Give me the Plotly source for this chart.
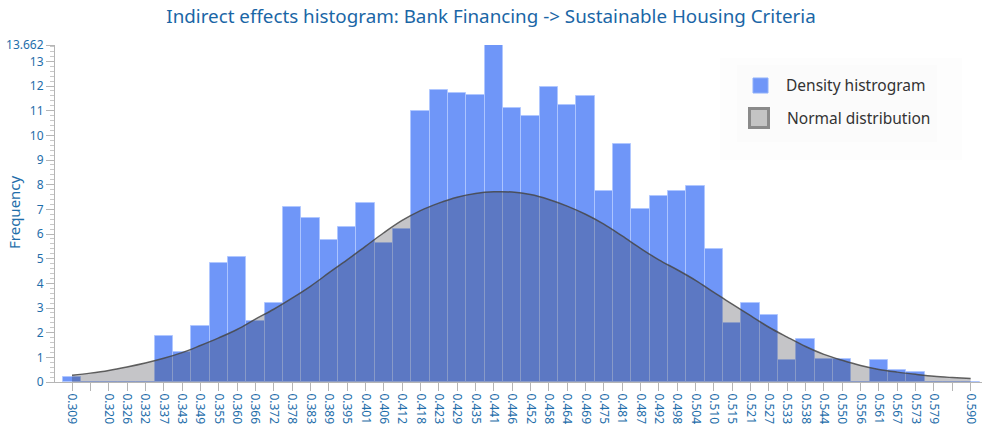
#!/usr/bin/env python3
"""Indirect effects histogram with normal distribution overlay."""
import plotly.graph_objects as go

# bin centres as printed on the x axis (two of them carry no printed label)
bin_labels = [
    "0.309", "0.315", "0.320", "0.326", "0.332", "0.337", "0.343", "0.349", "0.355", "0.360",
    "0.366", "0.372", "0.378", "0.383", "0.389", "0.395", "0.401", "0.406", "0.412", "0.418",
    "0.423", "0.429", "0.435", "0.441", "0.446", "0.452", "0.458", "0.464", "0.469", "0.475",
    "0.481", "0.487", "0.492", "0.498", "0.504", "0.510", "0.515", "0.521", "0.527", "0.533",
    "0.538", "0.544", "0.550", "0.556", "0.561", "0.567", "0.573", "0.579", "0.584", "0.590",
]
hidden_labels = ["0.315", "0.584"]

# histogram heights (frequency)
freq = [
    0.20, 0, 0, 0, 0, 1.86, 1.23, 2.27, 4.82, 5.08,
    2.49, 3.22, 7.09, 6.63, 5.74, 6.30, 7.26, 5.63, 6.19, 10.97,
    11.83, 11.73, 11.63, 13.66, 11.09, 10.78, 11.96, 11.25, 11.60, 7.73,
    9.63, 7.00, 7.54, 7.73, 7.93, 5.38, 2.40, 3.21, 2.70, 0.90,
    1.74, 0.92, 0.95, 0, 0.89, 0.50, 0.40, 0, 0, 0,
]

# fitted normal curve, read at every bin centre
normal = [
    0.27, 0.36, 0.47, 0.61, 0.77, 0.96, 1.19, 1.48, 1.79, 2.13,
    2.55, 2.95, 3.40, 3.88, 4.42, 4.95, 5.50, 6.05, 6.55, 6.95,
    7.25, 7.49, 7.64, 7.71, 7.70, 7.60, 7.40, 7.13, 6.80, 6.40,
    5.92, 5.42, 4.95, 4.55, 4.12, 3.63, 3.16, 2.69, 2.22, 1.82,
    1.44, 1.12, 0.88, 0.67, 0.51, 0.40, 0.31, 0.23, 0.18, 0.14,
]

y_max = 13.662
y_ticks = list(range(0, 14)) + [y_max]

BLUE_TXT = "#1f6eaa"
FONT = "Noto Sans"

# plot area in pixels (for placing the hand-made legend)
L, R, T, B = 55, 0, 45, 48
W, H = 982, 430
pw, ph = W - L - R, H - T - B


def px(x):
    return (x - L) / pw


def py(y):
    return (H - B - y) / ph


fig = go.Figure()
fig.add_trace(go.Bar(
    x=bin_labels, y=freq,
    marker=dict(color="#6f96f8", line=dict(color="rgba(175,198,255,0.9)", width=1)),
    showlegend=False,
))
fig.add_trace(go.Scatter(
    x=bin_labels, y=normal,
    mode="lines", line=dict(color="rgba(70,70,70,0.85)", width=1.5, shape="spline"),
    fill="tozeroy", fillcolor="rgba(40,40,50,0.27)",
    showlegend=False,
))

tick_text = ["" if s in hidden_labels else s for s in bin_labels]

fig.update_layout(
    width=W, height=H,
    margin=dict(l=L, r=R, t=T, b=B),
    paper_bgcolor="white", plot_bgcolor="white",
    bargap=0,
    font=dict(family=FONT, color=BLUE_TXT),
    title=dict(
        text="Indirect effects histogram: Bank Financing -> Sustainable Housing Criteria",
        x=0.5, xref="container", xanchor="center",
        y=1 - 16 / H, yref="container", yanchor="middle",
        font=dict(family=FONT, size=18.8, color="#1a66a6"),
    ),
    xaxis=dict(
        type="category", range=[-0.927, 49.62],
        tickmode="array", tickvals=bin_labels, ticktext=tick_text,
        tickangle=90, tickfont=dict(size=12, color=BLUE_TXT),
        ticks="outside", ticklen=8, tickcolor="#b5b5b5",
        showline=True, linecolor="#b5b5b5", linewidth=1,
        showgrid=False, zeroline=False, automargin=False,
    ),
    yaxis=dict(
        range=[0, y_max],
        tickmode="array", tickvals=y_ticks,
        ticktext=[str(v) for v in y_ticks],
        tickfont=dict(size=12, color=BLUE_TXT),
        ticks="outside", ticklen=8, tickcolor="#b5b5b5",
        minor=dict(dtick=0.2, tick0=0, ticks="outside", ticklen=4, tickcolor="#c8c8c8"),
        showline=True, linecolor="#b5b5b5", linewidth=1,
        showgrid=False, zeroline=False, automargin=False,
    ),
    shapes=[
        # legend panel
        dict(type="rect", xref="paper", yref="paper",
             x0=px(720), x1=px(962), y0=py(160), y1=py(58),
             fillcolor="rgba(0,0,0,0.007)", line=dict(width=0), layer="above"),
        dict(type="rect", xref="paper", yref="paper",
             x0=px(737), x1=px(937), y0=py(142), y1=py(65),
             fillcolor="rgba(0,0,0,0.008)", line=dict(width=0), layer="above"),
        dict(type="rect", xref="paper", yref="paper",
             x0=px(753), x1=px(768), y0=py(93), y1=py(78),
             fillcolor="#6f96f8", line=dict(color="#8fb0fa", width=1), layer="above"),
        dict(type="rect", xref="paper", yref="paper",
             x0=px(749.5), x1=px(768.5), y0=py(127.5), y1=py(108.5),
             fillcolor="#c4c4c4", line=dict(color="#8a8a8a", width=3), layer="above"),
    ],
    annotations=[
        dict(text="Frequency", xref="paper", yref="paper",
             x=px(14), y=py(212), textangle=-90, showarrow=False,
             xanchor="center", yanchor="middle",
             font=dict(family=FONT, size=15, color=BLUE_TXT)),
        dict(text="Density histrogram", xref="paper", yref="paper",
             x=px(784), y=py(85), showarrow=False,
             xanchor="left", yanchor="middle",
             font=dict(family=FONT, size=15.5, color="#333333")),
        dict(text="Normal distribution", xref="paper", yref="paper",
             x=px(785), y=py(118), showarrow=False,
             xanchor="left", yanchor="middle",
             font=dict(family=FONT, size=15.5, color="#333333")),
    ],
)

# the page body has a default margin; drop it so the figure sits at (0, 0)
fig.write_html(
    "out.html",
    config={"displayModeBar": False},
    post_script="document.body.style.margin = '0';",
)
